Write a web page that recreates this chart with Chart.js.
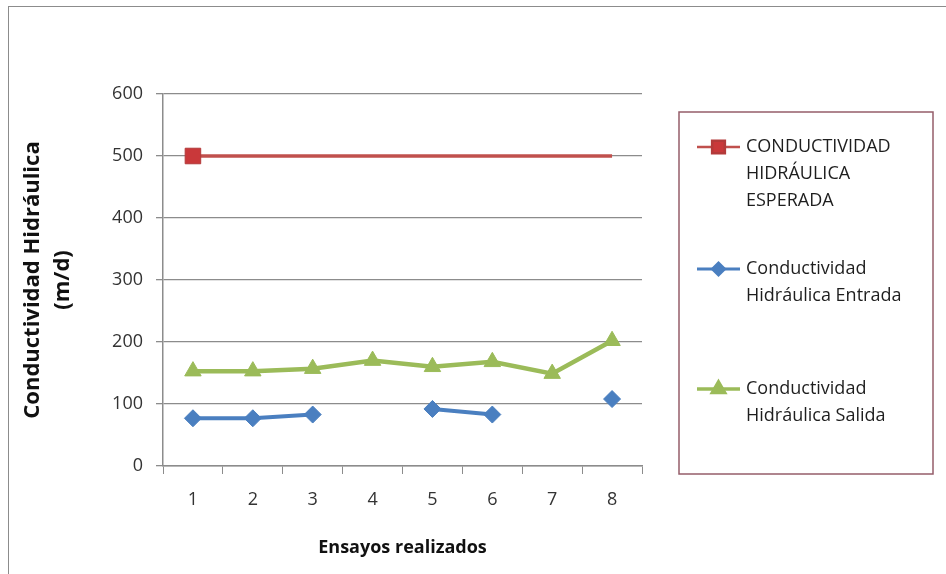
<!DOCTYPE html>
<html>
<head>
<meta charset="utf-8">
<script src="https://cdn.jsdelivr.net/npm/chart.js@4.4.1/dist/chart.umd.min.js"></script>
<style>
  html, body { margin: 0; padding: 0; background: #fff; }
  #wrap { position: relative; width: 946px; height: 574px; }
</style>
</head>
<body>
<div id="wrap"><canvas id="chart" width="946" height="574"></canvas></div>
<script>
// Ensayos 1..8 — hydraulic conductivity (m/d)
const ensayos = ["1", "2", "3", "4", "5", "6", "7", "8"];
const esperada = [500, 500, 500, 500, 500, 500, 500, 500];
const entrada  = [77, 77, 83, null, 92, 83, null, 108];
const salida   = [153, 153, 157, 170, 160, 168, 149, 202];
const yTicks   = [0, 100, 200, 300, 400, 500, 600];

const nameEsperada = "CONDUCTIVIDAD\nHIDRÁULICA\nESPERADA";
const nameEntrada  = "Conductividad\nHidráulica Entrada";
const nameSalida   = "Conductividad\nHidráulica Salida";

const FONT = "'Open Sans', sans-serif";

// outer frame, like the spreadsheet chart border (runs off the right/bottom)
const framePlugin = {
  id: "frame",
  beforeDraw(chart) {
    const ctx = chart.ctx;
    ctx.save();
    ctx.fillStyle = "#fff";
    ctx.fillRect(0, 0, chart.width, chart.height);
    ctx.strokeStyle = "#8c8c8c";
    ctx.lineWidth = 1;
    ctx.strokeRect(8.5, 6.5, 1200, 1200);
    ctx.restore();
  }
};

// boxed legend at the right with multi-line labels
const boxLegend = {
  id: "boxLegend",
  afterDraw(chart) {
    const ctx = chart.ctx;
    const box = { x: 679, y: 112, w: 254, h: 362 };
    const rows = [147, 269, 389];
    const lineH = 27;
    ctx.save();
    ctx.strokeStyle = "#955d6a";
    ctx.lineWidth = 1.5;
    ctx.strokeRect(box.x, box.y, box.w, box.h);
    chart.data.datasets.forEach((ds, i) => {
      const y = rows[i];
      ctx.strokeStyle = ds.borderColor;
      ctx.lineWidth = ds.borderWidth - 1;
      ctx.beginPath();
      ctx.moveTo(697, y);
      ctx.lineTo(740, y);
      ctx.stroke();
      ctx.fillStyle = ds.pointBackgroundColor;
      ctx.strokeStyle = ds.pointBorderColor;
      Chart.helpers.drawPoint(ctx, {
        pointStyle: ds.pointStyle, radius: ds.legendRadius, borderWidth: 1
      }, 718.5, y);
      ctx.fillStyle = "#1e1e1e";
      ctx.font = "18px " + FONT;
      ctx.textBaseline = "middle";
      ctx.textAlign = "left";
      ds.label.split("\n").forEach((t, k) => ctx.fillText(t, 746, y + k * lineH));
    });
    ctx.restore();
  }
};

new Chart(document.getElementById("chart"), {
  type: "line",
  data: {
    labels: ensayos,
    datasets: [
      {
        label: nameEsperada, data: esperada,
        borderColor: "#c0504d", borderWidth: 3.5,
        pointStyle: "rect", pointRadius: [11, 0, 0, 0, 0, 0, 0, 0],
        pointBackgroundColor: "#c9383a", pointBorderColor: "#b33a3a", pointBorderWidth: 1,
        legendRadius: 9
      },
      {
        label: nameEntrada, data: entrada,
        borderColor: "#4a7fc0", borderWidth: 4,
        pointStyle: "rectRot", pointRadius: 8.5,
        pointBackgroundColor: "#4a7fc0", pointBorderColor: "#4a7fc0", pointBorderWidth: 1,
        legendRadius: 6
      },
      {
        label: nameSalida, data: salida,
        borderColor: "#9bbb59", borderWidth: 4.5,
        pointStyle: "triangle", pointRadius: 9.5,
        pointBackgroundColor: "#9bbb59", pointBorderColor: "#9bbb59", pointBorderWidth: 1,
        legendRadius: 7
      }
    ]
  },
  options: {
    responsive: false,
    animation: false,
    spanGaps: false,
    layout: { padding: { left: 0, top: 94, right: 304, bottom: 0 } },
    plugins: {
      legend: { display: false },
      tooltip: { enabled: false }
    },
    scales: {
      x: {
        offset: true,
        grid: { display: true, drawOnChartArea: false, color: "#8c8c8c", tickLength: 8, offset: true },
        border: { color: "#8c8c8c", width: 1.5 },
        ticks: { color: "#333", font: { family: FONT, size: 18 }, padding: 15, maxRotation: 0 },
        title: {
          display: true, text: "Ensayos realizados", color: "#111",
          font: { family: FONT, size: 18, weight: "bold" },
          padding: { top: 0, bottom: 15 }
        },
        afterFit(s) { s.height = 108; }
      },
      y: {
        min: 0, max: 600,
        afterBuildTicks(s) { s.ticks = yTicks.map(v => ({ value: v })); },
        grid: { color: "#8c8c8c", lineWidth: 1.3, tickLength: 7 },
        border: { color: "#8c8c8c", width: 1.5 },
        ticks: { color: "#333", font: { family: FONT, size: 18 }, padding: 13 },
        title: {
          display: true, text: ["Conductividad Hidráulica", "(m/d)"], color: "#111",
          font: { family: FONT, size: 22, weight: "bold", lineHeight: 1.4 },
          padding: { top: 17, bottom: 0 }
        },
        afterFit(s) { s.width = 163; }
      }
    }
  },
  plugins: [framePlugin, boxLegend]
});
</script>
</body>
</html>
